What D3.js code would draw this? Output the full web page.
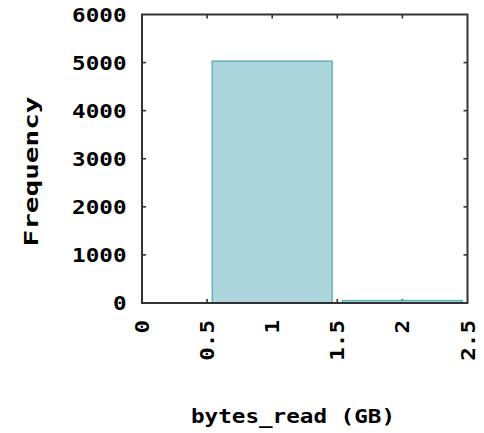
<!DOCTYPE html>
<html>
<head>
<meta charset="utf-8">
<script src="https://cdn.jsdelivr.net/npm/d3@7"></script>
<style>
  html, body { margin: 0; padding: 0; background: #fff; }
  svg { display: block; }
  text { font-family: "DejaVu Sans Mono", monospace; font-weight: bold; fill: #000; }
</style>
</head>
<body>
<svg id="chart" width="484" height="433"></svg>
<script>
// ---- data ----
const binCenters = [1, 2];
const binCounts = [5030, 50];
const binWidth = 0.92;
const xTicks = [0, 0.5, 1, 1.5, 2, 2.5];
const xTickLabels = ["0", "0.5", "1", "1.5", "2", "2.5"];
const yTicks = [0, 1000, 2000, 3000, 4000, 5000, 6000];
const yTickLabels = ["0", "1000", "2000", "3000", "4000", "5000", "6000"];
const xTitle = "bytes_read (GB)";
const yTitle = "Frequency";

// ---- layout ----
const svg = d3.select("#chart");
const L = 142, R = 467.5, T = 14.5, B = 303;
const x = d3.scaleLinear().domain([0, 2.5]).range([L, R]);
const y = d3.scaleLinear().domain([0, 6000]).range([B, T]);
const FS = 19, PITCH = 13.6;
const tickLen = 4;

// ticks (inward, mirrored) - drawn under bars
const tickG = svg.append("g").attr("stroke", "#333").attr("stroke-width", 1.6);
yTicks.slice(1, -1).forEach(v => {
  tickG.append("line").attr("x1", L).attr("x2", L + tickLen).attr("y1", y(v)).attr("y2", y(v));
  tickG.append("line").attr("x1", R).attr("x2", R - tickLen).attr("y1", y(v)).attr("y2", y(v));
});
xTicks.slice(1, -1).forEach(v => {
  tickG.append("line").attr("x1", x(v)).attr("x2", x(v)).attr("y1", B).attr("y2", B - tickLen);
  tickG.append("line").attr("x1", x(v)).attr("x2", x(v)).attr("y1", T).attr("y2", T + tickLen);
});

// bars
svg.append("g").selectAll("rect").data(binCenters).join("rect")
  .attr("x", (d) => x(d - binWidth / 2))
  .attr("width", d => x(d + binWidth / 2) - x(d - binWidth / 2))
  .attr("y", (d, i) => y(binCounts[i]))
  .attr("height", (d, i) => B - y(binCounts[i]))
  .attr("fill", "#add5dc")
  .attr("stroke", "#62b1c0")
  .attr("stroke-width", 1.5);

// frame
svg.append("rect")
  .attr("x", L).attr("y", T).attr("width", R - L).attr("height", B - T)
  .attr("fill", "none").attr("stroke", "#333").attr("stroke-width", 2);

// y tick labels
svg.append("g").selectAll("text").data(yTicks).join("text")
  .attr("x", 126.5)
  .attr("y", d => y(d))
  .attr("dy", "0.37em")
  .attr("text-anchor", "end")
  .attr("font-size", FS)
  .attr("textLength", (d, i) => yTickLabels[i].length * PITCH)
  .attr("lengthAdjust", "spacingAndGlyphs")
  .text((d, i) => yTickLabels[i]);

// x tick labels (rotated)
svg.append("g").selectAll("text").data(xTicks).join("text")
  .attr("transform", d => `translate(${x(d)},320) rotate(-90)`)
  .attr("dy", "0.37em")
  .attr("text-anchor", "end")
  .attr("font-size", FS)
  .attr("textLength", (d, i) => xTickLabels[i].length * PITCH)
  .attr("lengthAdjust", "spacingAndGlyphs")
  .text((d, i) => xTickLabels[i]);

// axis titles
svg.append("text")
  .attr("x", 191).attr("y", 423)
  .attr("font-size", FS)
  .attr("textLength", xTitle.length * PITCH)
  .attr("lengthAdjust", "spacingAndGlyphs")
  .text(xTitle);

svg.append("text")
  .attr("transform", "translate(38,171.5) rotate(-90)")
  .attr("text-anchor", "middle")
  .attr("font-size", FS)
  .attr("textLength", 150)
  .attr("lengthAdjust", "spacingAndGlyphs")
  .text(yTitle);
</script>
</body>
</html>
